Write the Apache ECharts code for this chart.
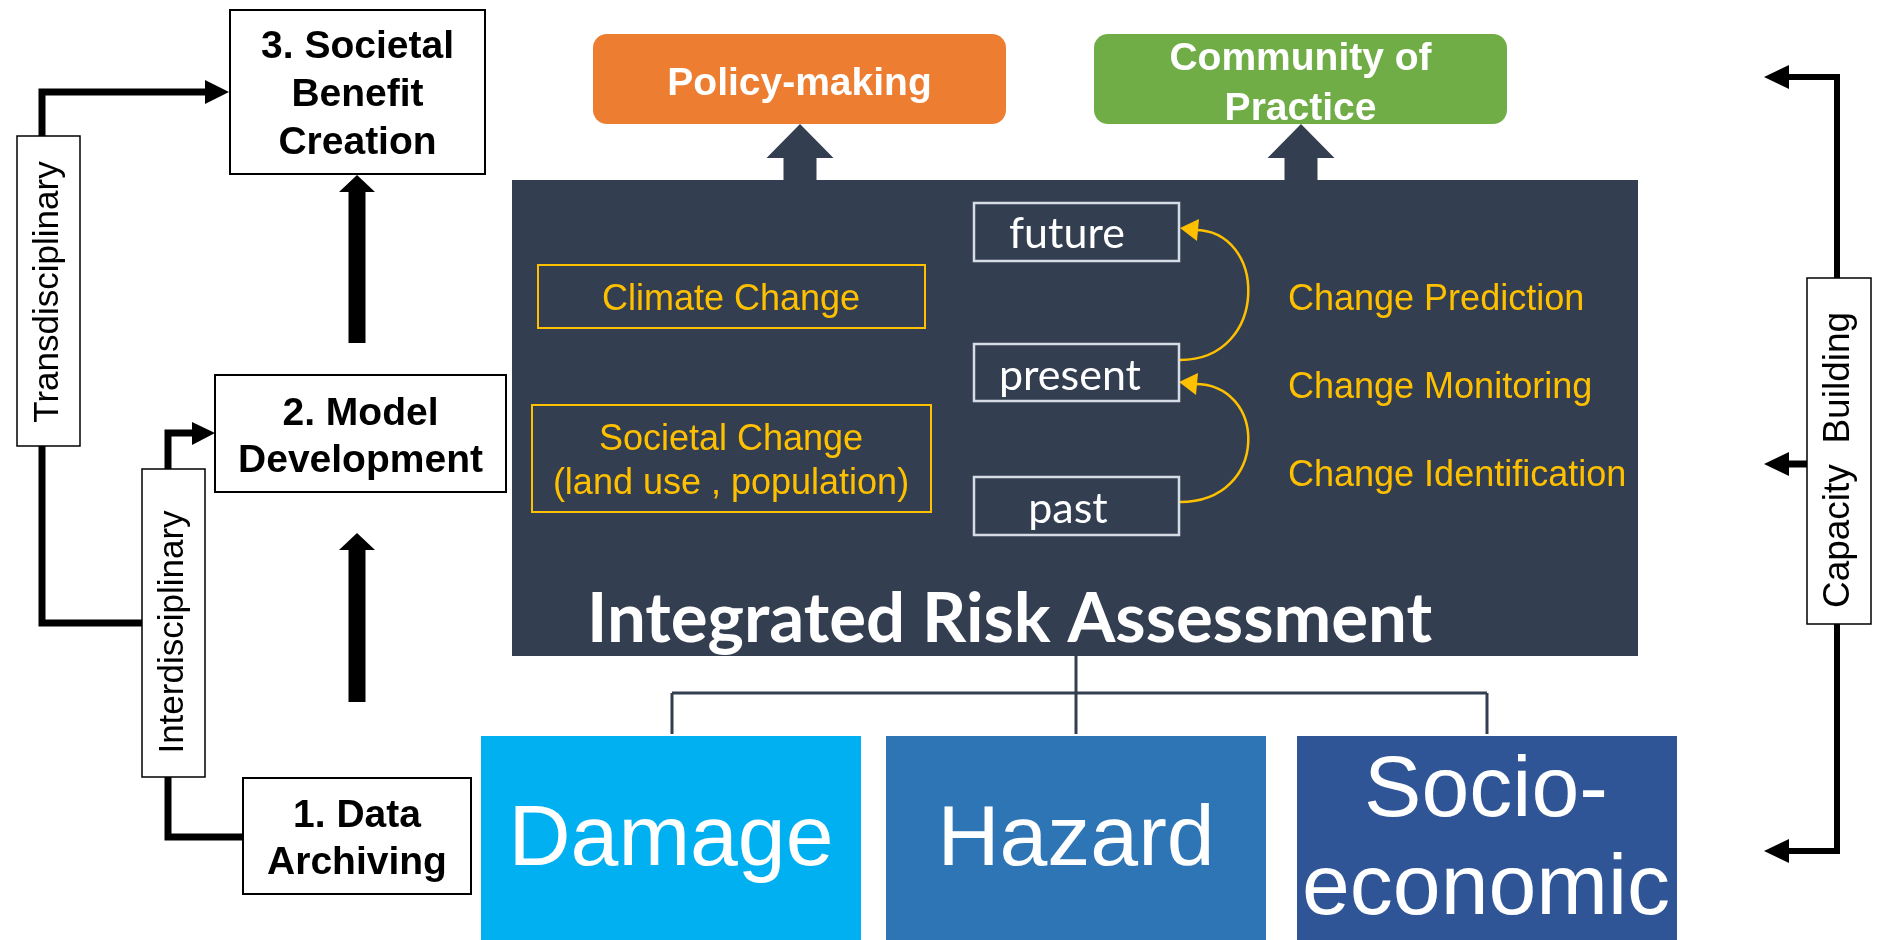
<!DOCTYPE html>
<html><head><meta charset="utf-8">
<script src="https://cdn.jsdelivr.net/npm/echarts@6/dist/echarts.min.js"></script>
<style>html,body{margin:0;padding:0;background:#fff}#c{width:1878px;height:940px}</style>
</head><body><div id="c"></div>
<script>
// ---- content (text of the diagram) ----
const stageLabels = ['1. Data\nArchiving', '2. Model\nDevelopment', '3. Societal\nBenefit\nCreation'];
const linkLabels = ['Transdisciplinary', 'Interdisciplinary', 'Capacity  Building'];
const outcomeLabels = ['Policy-making', 'Community of\nPractice'];
const driverLabels = ['Climate Change', 'Societal Change\n(land use , population)'];
const timeLabels = ['future', 'present', 'past'];
const changeLabels = ['Change Prediction', 'Change Monitoring', 'Change Identification'];
const componentLabels = ['Damage', 'Hazard', 'Socio-\neconomic'];
const panelTitle = ['Integrated Risk Assessment'];

// ---- layout (diagram space, 1878 x 940, y downwards) ----
const LAYOUT = {
  stage: [
    {x:243, y:778, w:228, h:116, ty:840, lh:47},
    {x:215, y:375, w:291, h:117, ty:438, lh:47},
    {x:230, y:10,  w:255, h:164, ty:95, lh:48}
  ],
  link: [
    {x:17,   y:136, w:63, h:310, tx:48.5, ty:292},
    {x:142,  y:469, w:63, h:308, tx:173.5, ty:632},
    {x:1807, y:278, w:64, h:346, tx:1839, ty:460}
  ],
  outcome: [
    {x:593,  y:34, w:413, h:90, ty:84, fill:'#ED7D31', lh:50},
    {x:1094, y:34, w:413, h:90, ty:84, fill:'#70AD47', lh:50}
  ],
  panel: [{x:512, y:180, w:1126, h:476, tx:587, ty:620}],
  driver: [
    {x:538, y:265, w:387, h:63, tx:731, ty:300, lh:44},
    {x:532, y:405, w:399, h:107, tx:731, ty:462, lh:44}
  ],
  time: [
    {x:974, y:203, w:205, h:58, tx:1067, ty:234},
    {x:974, y:344, w:205, h:57, tx:1070, ty:376},
    {x:974, y:477, w:205, h:58, tx:1068, ty:509}
  ],
  change: [
    {x:1288, y:297, w:0, h:0, tx:1288, ty:300},
    {x:1288, y:385, w:0, h:0, tx:1288, ty:388},
    {x:1288, y:473, w:0, h:0, tx:1288, ty:476}
  ],
  component: [
    {x:481,  y:736, w:380, h:210, tx:671,  ty:841, fill:'#00B0F0', lh:98},
    {x:886,  y:736, w:380, h:210, tx:1076, ty:841, fill:'#2E75B6', lh:98},
    {x:1297, y:736, w:380, h:210, tx:1486, ty:841, fill:'#2F5597', lh:98}
  ]
};

const CONNECT = {
  black: [
    {w:7, pts:[[42,137],[42,92],[207,92]]},
    {w:7, pts:[[42,445],[42,623],[142,623]]},
    {w:7, pts:[[168,470],[168,433],[194,433]]},
    {w:7, pts:[[168,776],[168,837],[243,837]]},
    {w:6, pts:[[1837,279],[1837,77],[1789,77]]},
    {w:6, pts:[[1837,623],[1837,851],[1789,851]]},
    {w:7, pts:[[1807,464],[1789,464]]}
  ],
  blackHeads: [
    [[229,92],[205,80],[205,104]],
    [[215,433],[192,422],[192,445]],
    [[1764,77],[1789,65],[1789,89]],
    [[1764,851],[1789,839],[1789,863]],
    [[1764,464],[1789,452],[1789,476]]
  ],
  blockArrows: [
    {c:357, shaftW:17, headW:36, tip:175, base:192, end:343, color:'#000'},
    {c:357, shaftW:17, headW:36, tip:533, base:550, end:702, color:'#000'},
    {c:800, shaftW:33, headW:67, tip:124, base:158, end:184, color:'#333F50'},
    {c:1301, shaftW:33, headW:67, tip:124, base:158, end:184, color:'#333F50'}
  ],
  tree: [
    [[1076,656],[1076,734]],
    [[672,693],[1487,693]],
    [[672,693],[672,734]],
    [[1487,693],[1487,734]]
  ],
  arcs: [
    {from:[1180,360], to:[1192,230], bulge:1270, cpTo:1268},
    {from:[1180,502], to:[1192,384], bulge:1270, cpTo:1268}
  ],
  arcHeads: [
    [[1180,228],[1199,219],[1197,241]],
    [[1179,382],[1198,373],[1196,395]]
  ]
};

function rectOf(api, b) {
  const p0 = api.coord([b.x, b.y]), p1 = api.coord([b.x + b.w, b.y + b.h]);
  return {x: Math.min(p0[0], p1[0]), y: Math.min(p0[1], p1[1]),
          width: Math.abs(p1[0] - p0[0]), height: Math.abs(p1[1] - p0[1])};
}

function boxSeries(name, labels, boxes, st, z) {
  return {
    type: 'custom', name: name, coordinateSystem: 'cartesian2d', z: z, silent: true, clip: false,
    data: labels.map((l, i) => ({name: l, value: [i, 0]})),
    renderItem: function (params, api) {
      const i = api.value(0), b = boxes[i];
      const children = [];
      if (!st.noRect) {
        const r = rectOf(api, b);
        r.r = st.radius || 0;
        children.push({type: 'rect', shape: r,
          style: {fill: b.fill || st.fill, stroke: st.stroke || null, lineWidth: st.lineWidth || 0}});
      }
      const t = api.coord([b.tx != null ? b.tx : b.x + b.w / 2, b.ty != null ? b.ty : b.y + b.h / 2]);
      children.push({type: 'text', x: t[0], y: t[1], rotation: st.rotation || 0,
        style: {text: labels[i], x: 0, y: 0, fill: st.color, fontSize: st.fontSize,
          fontFamily: st.fontFamily, fontWeight: st.fontWeight || 'normal',
          lineHeight: b.lh || st.lineHeight, align: st.align || 'center', verticalAlign: 'middle'}});
      return {type: 'group', children: children};
    }
  };
}

const connectorSeries = {
  type: 'custom', name: 'connectors', coordinateSystem: 'cartesian2d', z: 2, silent: true, clip: false,
  data: [{value: [0, 0]}],
  renderItem: function (params, api) {
    const P = p => api.coord(p);
    const ch = [];
    CONNECT.tree.forEach(seg => ch.push({type: 'polyline', shape: {points: seg.map(P)},
      style: {stroke: '#333F50', lineWidth: 3, fill: null}}));
    CONNECT.black.forEach(l => ch.push({type: 'polyline', shape: {points: l.pts.map(P)},
      style: {stroke: '#000', lineWidth: l.w, fill: null, lineJoin: 'miter'}}));
    CONNECT.blackHeads.forEach(h => ch.push({type: 'polygon', shape: {points: h.map(P)}, style: {fill: '#000'}}));
    CONNECT.blockArrows.forEach(a => {
      const pts = [[a.c - a.shaftW / 2, a.end], [a.c - a.shaftW / 2, a.base], [a.c - a.headW / 2, a.base],
        [a.c, a.tip], [a.c + a.headW / 2, a.base], [a.c + a.shaftW / 2, a.base], [a.c + a.shaftW / 2, a.end]];
      ch.push({type: 'polygon', shape: {points: pts.map(P)}, style: {fill: a.color}});
    });
    CONNECT.arcs.forEach(a => {
      const s = P(a.from), e = P(a.to), c1 = P([a.bulge, a.from[1]]), c2 = P([a.cpTo, a.to[1] - 3]);
      ch.push({type: 'bezierCurve', shape: {x1: s[0], y1: s[1], x2: e[0], y2: e[1],
        cpx1: c1[0], cpy1: c1[1], cpx2: c2[0], cpy2: c2[1]},
        style: {stroke: '#FFC000', lineWidth: 2.5, fill: null}});
    });
    CONNECT.arcHeads.forEach(h => ch.push({type: 'polygon', shape: {points: h.map(P)}, style: {fill: '#FFC000'}}));
    return {type: 'group', children: ch};
  }
};

const ARIAL = '"Liberation Sans", Arial, sans-serif';
const CALIBRI = 'Lato, "Open Sans", sans-serif';

const chart = echarts.init(document.getElementById('c'), null, {renderer: 'canvas'});
chart.setOption({
  animation: false,
  backgroundColor: '#ffffff',
  grid: {left: 0, right: 0, top: 0, bottom: 0},
  xAxis: {type: 'value', min: 0, max: 1878, show: false},
  yAxis: {type: 'value', min: 0, max: 940, inverse: true, show: false},
  series: [
    boxSeries('panel', panelTitle, LAYOUT.panel,
      {fill: '#333F50', color: '#ffffff', fontSize: 69, fontFamily: CALIBRI, fontWeight: 'bold', align: 'left'}, 1),
    connectorSeries,
    boxSeries('stages', stageLabels, LAYOUT.stage,
      {fill: '#ffffff', stroke: '#000', lineWidth: 2, color: '#000', fontSize: 39, fontFamily: ARIAL, fontWeight: 'bold'}, 3),
    boxSeries('links', linkLabels.slice(0, 2), LAYOUT.link,
      {fill: '#ffffff', stroke: '#000', lineWidth: 1.5, color: '#000', fontSize: 35, fontFamily: ARIAL, rotation: Math.PI / 2}, 3),
    boxSeries('capacity', linkLabels.slice(2), LAYOUT.link.slice(2),
      {fill: '#ffffff', stroke: '#000', lineWidth: 1.5, color: '#000', fontSize: 37, fontFamily: ARIAL, rotation: Math.PI / 2}, 3),
    boxSeries('outcomes', outcomeLabels, LAYOUT.outcome,
      {radius: 14, color: '#ffffff', fontSize: 39, fontFamily: ARIAL, fontWeight: 'bold'}, 3),
    boxSeries('drivers', driverLabels, LAYOUT.driver,
      {fill: 'transparent', stroke: '#FFC000', lineWidth: 2, color: '#FFC000', fontSize: 36, fontFamily: ARIAL}, 3),
    boxSeries('time', timeLabels, LAYOUT.time,
      {fill: 'transparent', stroke: '#D6DCE5', lineWidth: 2.5, color: '#ffffff', fontSize: 43, fontFamily: CALIBRI}, 3),
    boxSeries('change', changeLabels, LAYOUT.change,
      {noRect: true, color: '#FFC000', fontSize: 36, fontFamily: ARIAL, align: 'left'}, 3),
    boxSeries('components', componentLabels, LAYOUT.component,
      {color: '#ffffff', fontSize: 86, fontFamily: ARIAL}, 3)
  ]
});
</script>
</body></html>
